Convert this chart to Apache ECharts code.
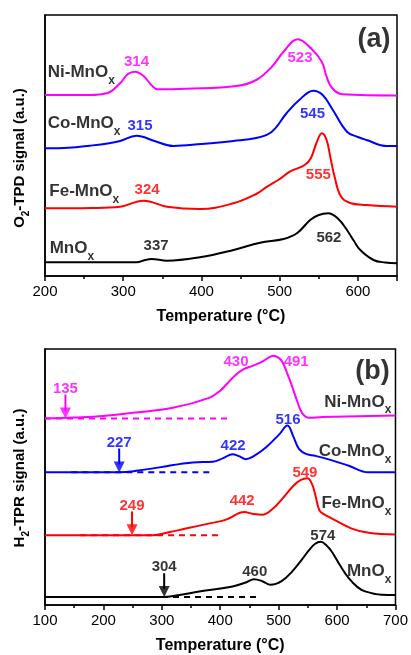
<!DOCTYPE html>
<html><head><meta charset="utf-8">
<script src="https://cdn.jsdelivr.net/npm/echarts@6/dist/echarts.min.js"></script>
<style>html,body{margin:0;padding:0;background:#fff}#c{width:411px;height:655px}</style>
</head><body><div id="c"></div>
<script>
// ================= DATA =================
const sampleNames = ['Ni-MnO', 'Co-MnO', 'Fe-MnO', 'MnO'];   // + subscript x
const sampleColors = ['#ff00ff', '#0000ff', '#ff0000', '#000000'];

// ---- (a) O2-TPD: temperature (°C) and signal (a.u.) ----
const tpdNiT = [200, 257, 279, 296, 306, 315, 326, 336, 344, 380, 445, 470, 490, 505, 523, 540, 554, 560, 567, 580, 650];
const tpdNiY = [181, 181, 182.7, 192.7, 202, 204.3, 200, 191, 186.7, 187.3, 190, 196, 209.3, 224.3, 236.7, 227.7, 214, 199.3, 188, 181.7, 180.5];
const tpdCoT = [200, 230, 257, 280, 296, 317, 340, 364, 400, 441, 470, 490, 509, 525, 543, 555, 568, 586, 600, 611, 637, 650];
const tpdCoY = [127.7, 128.3, 130.3, 132.5, 135, 140.3, 135, 130, 132, 135, 138, 144.3, 163, 176, 185.3, 181, 166, 144.3, 139, 136, 130, 130];
const tpdFeT = [200, 260, 296, 326, 356, 398, 441, 470, 484, 500, 513, 532, 540, 547, 554, 560, 565, 570, 578, 590, 611, 650];
const tpdFeY = [67.7, 68, 69.3, 75.3, 69.3, 67, 72.7, 82, 89.3, 97, 104.3, 111, 118, 133, 142.7, 136, 118, 100, 80, 73, 71, 69.3];
const tpdMnT = [200, 317, 328, 336, 356, 398, 441, 475, 505, 522, 539, 550, 562, 575, 586, 595, 603, 620, 635, 650];
const tpdMnY = [13.7, 13.7, 16, 17, 15.3, 18.7, 26, 33.3, 37, 42.7, 56, 61, 62.7, 57, 46, 35, 26, 16, 13.5, 12.7];
const tpdPeakText = [['314', '523'], ['315', '545'], ['324', '555'], ['337', '562']];

// ---- (b) H2-TPR ----
const tprNiT = [100, 150, 200, 250, 319, 381, 400, 410, 425, 438, 455, 472, 485, 492, 500, 506, 515, 523, 532, 540, 552, 575, 700];
const tprNiY = [188, 189, 190.5, 193.7, 198.7, 208.7, 216, 222, 231, 237, 241, 245.3, 250, 251.3, 249, 245.3, 233, 220.3, 205, 193.7, 188.7, 189.5, 191];
const tprCoT = [100, 228, 260, 296, 353, 387, 405, 421, 432, 444, 460, 478, 501, 515, 525, 535, 548, 563, 590, 620, 654, 700];
const tprCoY = [133.7, 133.7, 135.5, 138.7, 143.7, 144.3, 148, 152, 150, 147, 151, 158.7, 172, 181, 170, 157, 152, 150.3, 146, 140.3, 133.7, 133.7];
const tprFeT = [100, 284, 310, 341, 380, 410, 441, 455, 472, 490, 506, 525, 538, 549, 557, 563, 568, 572, 585, 597, 625, 654, 700];
const tprFeY = [70.3, 70.3, 73, 77, 82, 86, 93.7, 92, 91, 97, 107, 120, 126, 127.7, 122, 110.3, 98, 93.7, 89, 85.3, 77, 72.7, 71];
const tprMnT = [100, 301, 330, 364, 421, 445, 458, 472, 486, 505, 523, 540, 552, 562, 572, 582, 591, 605, 620, 635, 648, 676, 700];
const tprMnY = [8, 8, 10, 13.7, 18.7, 23, 26, 24, 20.3, 24, 33.7, 46, 55.3, 61.5, 63.7, 60, 53.7, 40, 27, 18, 13.7, 10.3, 10];
const tprPeakText = [['430', '491'], ['422', '516'], ['442', '549'], ['460', '574']];
const tprOnsetT = [135, 227, 249, 304];              // reduction onset temperatures (arrows)
const tprBaseStartT = [100, 145, 160, 225];          // dashed baseline ranges
const tprBaseEndT = [415, 385, 404, 467];

// ---- axes ----
const tpdXMin = 200, tpdXMax = 650;
const tprXMin = 100, tprXMax = 700;
const xInterval = 100;

// ================= LAYOUT (annotation anchors, data coords) =================
const tpdPeakPos = [[[317, 214], [526, 218]], [[321.5, 150], [542, 162]], [[330.5, 85.7], [549.5, 101.3]], [[342, 30], [563, 38.5]]];
const tpdNamePos = [[203.5, 203.5], [203.5, 152.7], [205.5, 84.3], [206, 27.2]];
const tprPeakPos = [[[427, 245], [530, 245]], [[422, 160], [516, 186.5]], [[437.5, 105], [545, 133]], [[459, 33], [575.6, 70]]];
const tprNamePos = [[693, 204.5], [693, 155], [693, 102.5], [693, 33.7]];
const tprOnsetLabelDy = 30;
const arrowLen = 24;

const FONT = '"Liberation Sans", Arial, Helvetica, sans-serif';
const zip = (a, b) => a.map((v, i) => [v, b[i]]);

const tpdSets = [[tpdNiT, tpdNiY], [tpdCoT, tpdCoY], [tpdFeT, tpdFeY], [tpdMnT, tpdMnY]];
const tprSets = [[tprNiT, tprNiY], [tprCoT, tprCoY], [tprFeT, tprFeY], [tprMnT, tprMnY]];

const nameRich = {
  m: { fontSize: 17, fontWeight: 'bold', fontFamily: FONT, lineHeight: 28 },
  s: { fontSize: 12, fontWeight: 'bold', fontFamily: FONT, lineHeight: 28, verticalAlign: 'bottom' }
};

function curve(set, i, ax) {
  return {
    type: 'line', xAxisIndex: ax, yAxisIndex: ax, data: zip(set[0], set[1]),
    smooth: 0.4, symbol: 'none', silent: true,
    lineStyle: { color: sampleColors[i], width: 2 }, z: 3
  };
}

function annot(items, ax) {
  return {
    type: 'scatter', xAxisIndex: ax, yAxisIndex: ax, symbolSize: 0, silent: true, z: 10,
    data: items
  };
}

const series = [];
tpdSets.forEach((s, i) => series.push(curve(s, i, 0)));
tprSets.forEach((s, i) => series.push(curve(s, i, 1)));

// dashed baselines + arrows (b)
tprSets.forEach((s, i) => {
  const base = s[1][0];
  series.push({
    type: 'line', xAxisIndex: 1, yAxisIndex: 1, symbol: 'none', silent: true, z: 2,
    data: [[tprBaseStartT[i], base], [tprBaseEndT[i], base]],
    lineStyle: { color: sampleColors[i], width: 2, type: [6, 5] }
  });
  series.push({
    type: 'line', xAxisIndex: 1, yAxisIndex: 1, symbol: 'none', silent: true, z: 4,
    data: [[tprOnsetT[i], base + arrowLen], [tprOnsetT[i], base + 8]],
    lineStyle: { color: sampleColors[i], width: 2 }
  });
  series.push({
    type: 'scatter', xAxisIndex: 1, yAxisIndex: 1, silent: true, z: 4,
    symbol: 'triangle', symbolSize: [11, 11], symbolRotate: 180,
    data: [[tprOnsetT[i], base + 5.5]], itemStyle: { color: sampleColors[i] }
  });
});

function numLabel(pos, text, color) {
  return {
    value: pos,
    label: { show: true, position: [0, 0], align: 'center', verticalAlign: 'middle', formatter: text,
      color: color, fontSize: 15, fontWeight: 'bold', fontFamily: FONT }
  };
}
function nameLabel(pos, text, color, align) {
  return {
    value: pos,
    label: { show: true, position: [0, 0], align: align, verticalAlign: 'middle',
      formatter: '{m|' + text + '}{s|x}', color: color, rich: nameRich }
  };
}

const aItems = [], bItems = [];
tpdSets.forEach((s, i) => {
  tpdPeakText[i].forEach((t, k) => aItems.push(numLabel(tpdPeakPos[i][k], t, sampleColors[i])));
  aItems.push(nameLabel(tpdNamePos[i], sampleNames[i], '#000', 'left'));
});
tprSets.forEach((s, i) => {
  tprPeakText[i].forEach((t, k) => bItems.push(numLabel(tprPeakPos[i][k], t, sampleColors[i])));
  bItems.push(nameLabel(tprNamePos[i], sampleNames[i], '#000', 'right'));
  bItems.push(numLabel([tprOnsetT[i], s[1][0] + tprOnsetLabelDy], String(tprOnsetT[i]), sampleColors[i]));
});
aItems.push({ value: [620.7, 236.3], label: { show: true, position: [0, 0], align: 'center', verticalAlign: 'middle', formatter: '(a)', color: '#000', fontSize: 27, fontWeight: 'bold', fontFamily: FONT } });
bItems.push({ value: [660.8, 235.5], label: { show: true, position: [0, 0], align: 'center', verticalAlign: 'middle', formatter: '(b)', color: '#000', fontSize: 27, fontWeight: 'bold', fontFamily: FONT } });
series.push(annot(aItems, 0));
series.push(annot(bItems, 1));

function xAxis(gi, min, max, showMax) {
  return {
    type: 'value', gridIndex: gi, min: min, max: max, interval: xInterval,
    name: 'Temperature (°C)', nameLocation: 'middle', nameGap: 33,
    nameTextStyle: { fontSize: 16, fontWeight: 'bold', fontFamily: FONT, color: '#000' },
    axisLine: { onZero: false, lineStyle: { color: '#000', width: 1.5 } },
    axisTick: { show: true, inside: false, length: 5, lineStyle: { color: '#000', width: 1.5 } },
    minorTick: { show: true, splitNumber: 2, length: 3, lineStyle: { color: '#000', width: 1.5 } },
    axisLabel: { fontSize: 15, color: '#000', fontFamily: FONT, margin: 8, showMaxLabel: showMax },
    splitLine: { show: false }
  };
}
function yAxis(gi, max) {
  return {
    type: 'value', gridIndex: gi, min: 0, max: max,
    axisLine: { show: true, lineStyle: { color: '#000', width: 1.5 } },
    axisTick: { show: false }, axisLabel: { show: false }, splitLine: { show: false }
  };
}

const yRich = {
  m: { fontSize: 15, fontWeight: 'bold', fontFamily: FONT, lineHeight: 22, fill: '#000' },
  s: { fontSize: 10, fontWeight: 'bold', fontFamily: FONT, lineHeight: 22, verticalAlign: 'bottom', fill: '#000' }
};

const chart = echarts.init(document.getElementById('c'), null, { renderer: 'canvas' });
chart.setOption({
  animation: false,
  backgroundColor: '#fff',
  grid: [
    { left: 45, top: 15, width: 352, height: 261, show: true, borderColor: '#000', borderWidth: 1.5, backgroundColor: 'transparent' },
    { left: 45, top: 349, width: 352, height: 258, show: true, borderColor: '#000', borderWidth: 1.5, backgroundColor: 'transparent' }
  ],
  xAxis: [xAxis(0, tpdXMin, tpdXMax, false), xAxis(1, tprXMin, tprXMax, true)],
  yAxis: [yAxis(0, 261), yAxis(1, 258)],
  graphic: [
    { type: 'text', x: 20, y: 158, rotation: Math.PI / 2, silent: true,
      style: { text: '{m|O}{s|2}{m|-TPD signal (a.u.)}', rich: yRich, align: 'center', verticalAlign: 'middle' } },
    { type: 'text', x: 20, y: 478, rotation: Math.PI / 2, silent: true,
      style: { text: '{m|H}{s|2}{m|-TPR signal (a.u.)}', rich: yRich, align: 'center', verticalAlign: 'middle' } }
  ],
  series: series
});
</script></body></html>
